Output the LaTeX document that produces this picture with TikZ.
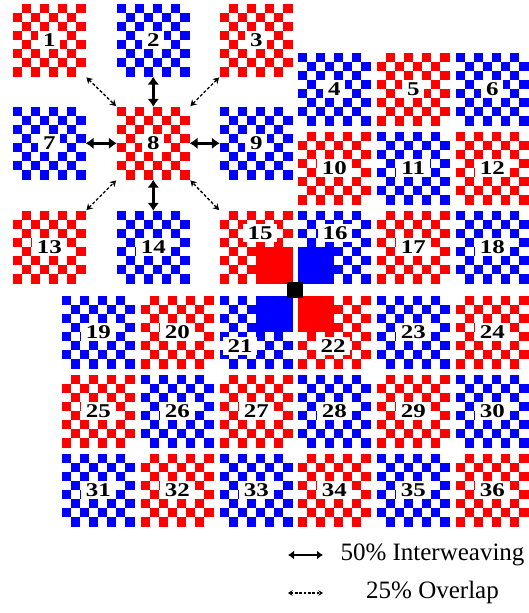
\documentclass[tikz,border=0pt]{standalone}
\usepackage{fontspec}
\setmainfont{Liberation Serif}
\usetikzlibrary{arrows.meta}
\definecolor{tred}{RGB}{255,0,0}
\definecolor{tblue}{RGB}{0,0,255}
\newcommand\sx[1]{\scalebox{1.28}[1]{#1}}
\newcommand\tile[5]{%
  \node[tilebox] (t#1) at ({#2+36.25},{#3+36.25}) {};
  \foreach \r in {0,...,7}{\foreach \c in {0,...,7}{%
    \pgfmathtruncatemacro\pp{mod(\r+\c+#5,2)}%
    \ifnum\pp=0\relax\fill[#4] ({#2+\c*9.0625},{#3+\r*9.0625}) rectangle ++(9.0625,9.0625);\fi}}%
}
\tikzset{
  tilebox/.style={rectangle,minimum size=72.5pt,inner sep=0pt,draw=none},
  lab/.style={fill=white,inner xsep=5pt,inner ysep=0pt,minimum height=18pt,text depth=0pt,
    font=\fontsize{19.5}{20}\selectfont\bfseries},
  weave/.style={line width=3pt,{Latex[length=8pt,width=12pt]}-{Latex[length=8pt,width=12pt]}},
  overlap/.style={line width=1.4pt,dash pattern=on 3pt off 2pt,
    {Stealth[length=6pt,width=7pt]}-{Stealth[length=6pt,width=7pt]},shorten <=1pt,shorten >=1pt},
  legweave/.style={line width=2.4pt,{Latex[length=6pt,width=9pt]}-{Latex[length=6pt,width=9pt]}},
  legover/.style={line width=1.2pt,dash pattern=on 2.5pt off 1.8pt,
    {Stealth[length=4.5pt,width=5.5pt]}-{Stealth[length=4.5pt,width=5.5pt]}},
  legtext/.style={font=\fontsize{25}{26}\selectfont,inner sep=0pt,anchor=center}
}
\begin{document}
\begin{tikzpicture}[x=1pt,y=-1pt]
\useasboundingbox (0,0) rectangle (528,613);
% row 1
\tile{1}{13}{4}{tred}{1}
\tile{2}{117}{4}{tblue}{0}
\tile{3}{220}{4}{tred}{1}
\tile{4}{298}{53}{tblue}{0}
\tile{5}{377}{53}{tred}{1}
\tile{6}{456}{53}{tblue}{0}
% row 2
\tile{7}{13}{107}{tblue}{0}
\tile{8}{117}{107}{tred}{0}
\tile{9}{220}{107}{tblue}{0}
\tile{10}{298}{132}{tred}{1}
\tile{11}{377}{132}{tblue}{0}
\tile{12}{456}{132}{tred}{0}
% row 3
\tile{13}{13}{211}{tred}{1}
\tile{14}{117}{211}{tblue}{0}
\tile{15}{220}{211}{tred}{1}
\tile{16}{298}{211}{tblue}{0}
\tile{17}{377}{211}{tred}{1}
\tile{18}{456}{211}{tblue}{0}
% row 4
\tile{19}{62}{296}{tblue}{0}
\tile{20}{141}{296}{tred}{1}
\tile{21}{220}{296}{tblue}{0}
\tile{22}{298}{296}{tred}{1}
\tile{23}{377}{296}{tblue}{0}
\tile{24}{456}{296}{tred}{1}
% row 5
\tile{25}{62}{375}{tred}{1}
\tile{26}{141}{375}{tblue}{0}
\tile{27}{220}{375}{tred}{1}
\tile{28}{298}{375}{tblue}{0}
\tile{29}{377}{375}{tred}{1}
\tile{30}{456}{375}{tblue}{0}
% row 6
\tile{31}{62}{454}{tblue}{0}
\tile{32}{141}{454}{tred}{1}
\tile{33}{220}{454}{tblue}{0}
\tile{34}{298}{454}{tred}{1}
\tile{35}{377}{454}{tblue}{0}
\tile{36}{456}{454}{tred}{1}
% solid quadrants around the centre
\fill[tred] (256.25,247.25) rectangle (292.5,283.5);
\fill[tblue] (298,247.25) rectangle (334.25,283.5);
\fill[tblue] (256.25,296) rectangle (292.5,332.25);
\fill[tred] (298,296) rectangle (334.25,332.25);
\node[fill=black,minimum size=16pt,inner sep=0pt] (ctr) at (295.25,289.5) {};
% labels
\foreach \n in {1,...,14,17,18,19,20,23,24,25,26,27,28,29,30,31,32,33,34,35,36}{
  \node[lab] (n\n) at (t\n) {\sx{\n}};
}
\node[lab] (n15) at (260,233) {\sx{15}};
\node[lab] (n16) at (335,233) {\sx{16}};
\node[lab] (n21) at (240,346) {\sx{21}};
\node[lab] (n22) at (333,346) {\sx{22}};
% connectors
\draw[weave] (t2.south) -- (t8.north);
\draw[weave] (t7.east) -- (t8.west);
\draw[weave] (t8.east) -- (t9.west);
\draw[weave] (t8.south) -- (t14.north);
\draw[overlap] (t1.south east) -- (t8.north west);
\draw[overlap] (t3.south west) -- (t8.north east);
\draw[overlap] (t13.north east) -- (t8.south west);
\draw[overlap] (t15.north west) -- (t8.south east);
% legend
\coordinate (la) at (288,555);
\coordinate (lb) at (323,555);
\coordinate (lc) at (288,593);
\coordinate (ld) at (323,593);
\draw[legweave] (la) -- (lb);
\draw[legover] (lc) -- (ld);
\node[legtext] (tw) at (432.5,555) {50\% Interweaving};
\node[legtext] (to) at (432.5,592) {25\% Overlap};
\end{tikzpicture}
\end{document}
